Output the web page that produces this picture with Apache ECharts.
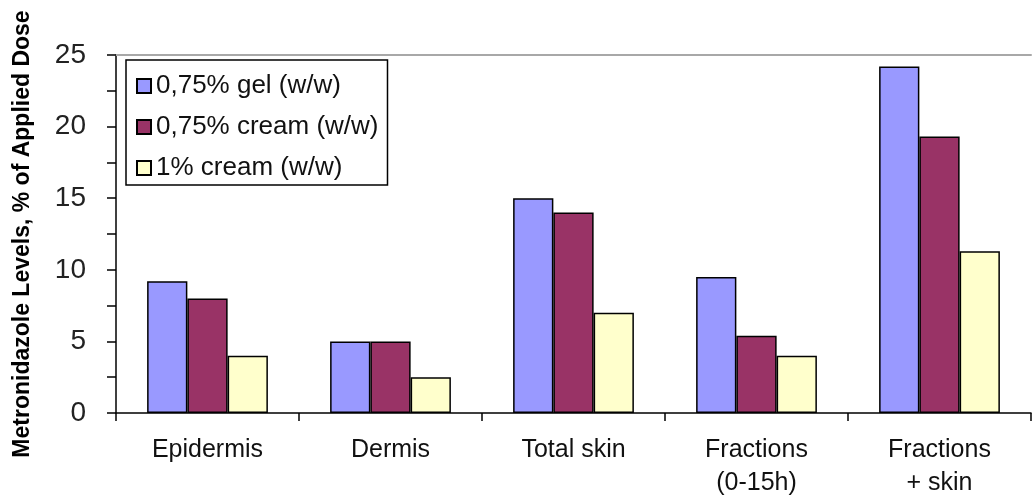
<!DOCTYPE html>
<html>
<head>
<meta charset="utf-8">
<script src="https://cdn.jsdelivr.net/npm/echarts@6/dist/echarts.min.js"></script>
<style>
  html, body { margin: 0; padding: 0; background: #fff; }
  #chart { width: 1032px; height: 500px; }
</style>
</head>
<body>
<div id="chart"></div>
<script>
// Metronidazole levels in skin layers and receptor fractions, % of applied dose
const categories = ['Epidermis', 'Dermis', 'Total skin', 'Fractions\n(0-15h)', 'Fractions\n+ skin'];
const gel075 = [9.2, 5.0, 15.0, 9.5, 24.2];
const cream075 = [8.0, 5.0, 14.0, 5.4, 19.3];
const cream1 = [4.0, 2.5, 7.0, 4.0, 11.3];
const seriesNames = ['0,75% gel (w/w)', '0,75% cream (w/w)', '1% cream (w/w)'];
const yTicks = [0, 5, 10, 15, 20, 25];
const yTitle = 'Metronidazole Levels, % of Applied Dose';

const FONT = '"Liberation Sans", Arial, sans-serif';
const colors = ['#9999FF', '#993366', '#FFFFCC'];

const chart = echarts.init(document.getElementById('chart'), null, { renderer: 'canvas' });

const barStyle = (c) => ({ color: c, borderColor: '#000', borderWidth: 1.5 });

chart.setOption({
  animation: false,
  backgroundColor: '#fff',
  grid: { left: 116, right: 1, top: 55, bottom: 87, containLabel: false, outerBoundsMode: 'none' },
  legend: {
    orient: 'vertical',
    left: 126,
    top: 60,
    padding: [11, 9, 2, 10],
    itemGap: 11,
    itemWidth: 14,
    itemHeight: 14,
    borderColor: '#000',
    borderWidth: 1.5,
    backgroundColor: '#fff',
    icon: 'rect',
    data: seriesNames,
    textStyle: { fontFamily: FONT, fontSize: 26, color: '#111', lineHeight: 30 }
  },
  xAxis: [
    {
      type: 'category',
      data: categories,
      boundaryGap: true,
      axisLine: { lineStyle: { color: '#000', width: 1.5 } },
      axisTick: { show: true, length: 8, lineStyle: { color: '#000', width: 1.5 } },
      axisLabel: {
        interval: 0,
        margin: 21,
        fontFamily: FONT,
        fontSize: 25,
        color: '#111',
        lineHeight: 33
      }
    },
    {
      // light frame line along the top of the plot area
      type: 'category',
      position: 'top',
      data: categories,
      axisLine: { lineStyle: { color: '#a8a8a8', width: 2 } },
      axisTick: { show: false },
      axisLabel: { show: false }
    }
  ],
  yAxis: {
    type: 'value',
    min: 0,
    max: 25,
    interval: 2.5,
    name: yTitle,
    nameLocation: 'middle',
    nameRotate: 90,
    nameGap: 82,
    nameTextStyle: { fontFamily: FONT, fontSize: 23, fontWeight: 'bold', color: '#000' },
    axisLine: { show: true, lineStyle: { color: '#000', width: 1.5 } },
    axisTick: { show: true, length: 9, lineStyle: { color: '#000', width: 1.5 } },
    splitLine: { show: false },
    axisLabel: {
      margin: 30,
      fontFamily: FONT,
      fontSize: 28,
      color: '#222',
      formatter: (v) => (yTicks.indexOf(v) >= 0 ? String(v) : '')
    }
  },
  series: [
    { name: seriesNames[0], type: 'bar', data: gel075, barGap: '0%', barCategoryGap: '34%', itemStyle: barStyle(colors[0]) },
    { name: seriesNames[1], type: 'bar', data: cream075, barGap: '0%', barCategoryGap: '34%', itemStyle: barStyle(colors[1]) },
    { name: seriesNames[2], type: 'bar', data: cream1, barGap: '0%', barCategoryGap: '34%', itemStyle: barStyle(colors[2]) }
  ]
});
</script>
</body>
</html>
